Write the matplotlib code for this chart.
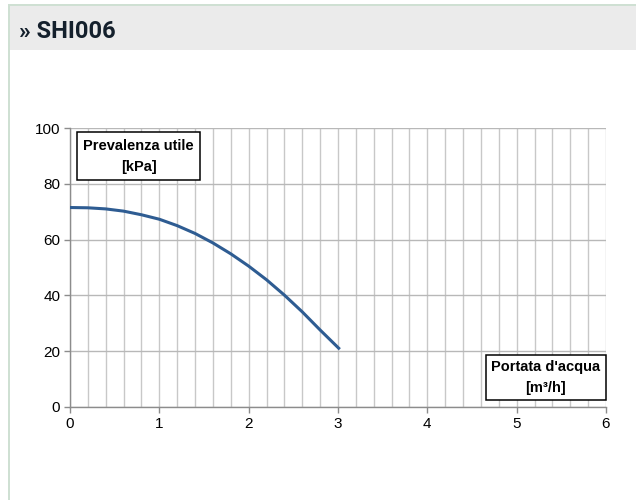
import matplotlib
matplotlib.use("Agg")
import matplotlib.pyplot as plt
from matplotlib.patches import Rectangle
from matplotlib.ticker import MultipleLocator

title = "» SHI006"
flow = [0, 0.2, 0.4, 0.6, 0.8, 1.0, 1.2, 1.4, 1.6, 1.8, 2.0, 2.2, 2.4, 2.6, 2.8, 3.02]
head = [71.5, 71.4, 71.0, 70.2, 68.9, 67.3, 65.0, 62.2, 58.8, 54.9, 50.5, 45.6, 40.1, 34.1, 27.6, 20.7]
x_ticks = [0, 1, 2, 3, 4, 5, 6]
y_ticks = [0, 20, 40, 60, 80, 100]
y_label = "Prevalenza utile\n[kPa]"
x_label = "Portata d'acqua\n[m³/h]"

W, H = 636, 500
fig = plt.figure(figsize=(W / 100, H / 100), dpi=100)
fig.patch.set_facecolor("white")


def fx(px):
    return px / W


def fy(py):
    return 1 - py / H


border = "#cfe0d3"
fig.patches.append(Rectangle((fx(9), fy(50)), 1 - fx(9), fy(6) - fy(50),
                             transform=fig.transFigure, facecolor="#ebebeb",
                             edgecolor="none", zorder=0))
fig.patches.append(Rectangle((fx(8), fy(6)), 1 - fx(8), fy(4) - fy(6),
                             transform=fig.transFigure, facecolor=border,
                             edgecolor="none", zorder=1))
fig.patches.append(Rectangle((fx(8), 0), fx(10) - fx(8), fy(4),
                             transform=fig.transFigure, facecolor=border,
                             edgecolor="none", zorder=1))
fig.text(fx(19), fy(31), title, fontsize=17, fontweight="bold",
         family=["Roboto", "DejaVu Sans"], color="#14202c", va="center", ha="left")

ax = fig.add_axes([fx(70), fy(407), fx(606) - fx(70), fy(128) - fy(407)])
ax.plot(flow, head, color="#2e5c92", lw=2.2, solid_capstyle="butt",
        solid_joinstyle="round", zorder=3)
ax.set_xlim(0, 6)
ax.set_ylim(0, 100)
ax.set_xticks(x_ticks)
ax.set_yticks(y_ticks)
ax.xaxis.set_minor_locator(MultipleLocator(0.2))
ax.grid(True, which="major", axis="y", color="#b8b8b8", lw=1.0)
ax.grid(True, which="both", axis="x", color="#c8c8c8", lw=1.0)
ax.set_axisbelow(True)
for s in ["top", "right"]:
    ax.spines[s].set_visible(False)
for s in ["left", "bottom"]:
    ax.spines[s].set_color("#8c8c8c")
    ax.spines[s].set_linewidth(1.0)
ax.tick_params(axis="both", which="major", length=4, color="#8c8c8c", width=1,
               labelsize=11, labelcolor="#000000", direction="out", pad=3)
ax.tick_params(axis="x", which="minor", length=0)
for lab in ax.get_xticklabels() + ax.get_yticklabels():
    lab.set_family(["Liberation Sans", "DejaVu Sans"])

box = dict(boxstyle="square,pad=0.42", facecolor="white", edgecolor="black", lw=1.1)
ax.text(0.128, 0.899, y_label, transform=ax.transAxes, ha="center", va="center",
        fontsize=10.5, fontweight="bold", family=["Liberation Sans", "DejaVu Sans"],
        bbox=box, zorder=5, linespacing=1.65)
box2 = dict(boxstyle="square,pad=0.35", facecolor="white", edgecolor="black", lw=1.1)
ax.text(0.888, 0.106, x_label, transform=ax.transAxes, ha="center", va="center",
        fontsize=10.5, fontweight="bold", family=["Liberation Sans", "DejaVu Sans"],
        bbox=box2, zorder=5, linespacing=1.65)

fig.savefig("out.png", dpi=100, facecolor="white")
